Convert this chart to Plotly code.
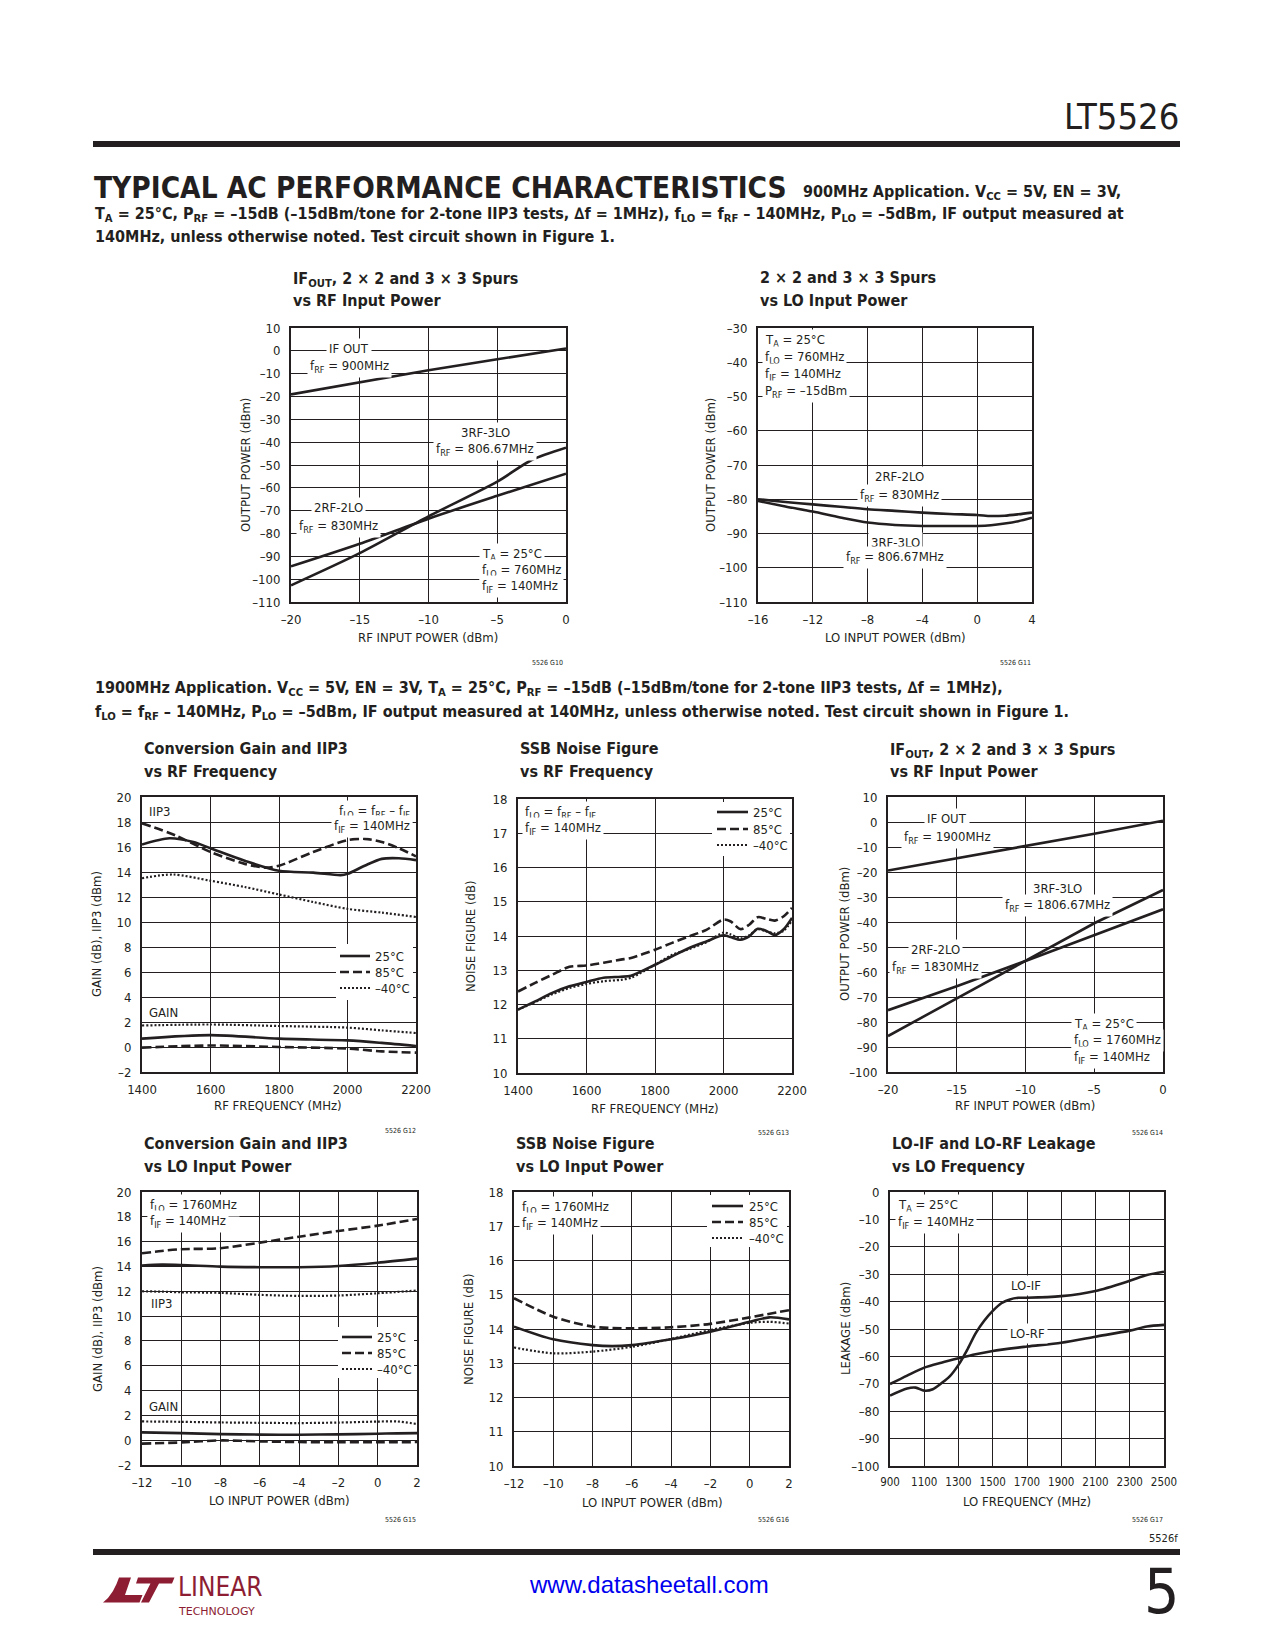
import plotly.graph_objects as go

W, H = 1275, 1650
OFF = 8  # page body margin in the browser
FONT = "DejaVu Sans Condensed, Liberation Sans Narrow, Arial Narrow, sans-serif"
INK = "#231f20"
MAROON = "#8c1d33"

# ---------------- data ----------------
# Chart 1: 900MHz, IF out / spurs vs RF input power
c1_pin = [-20, -15, -10, -5, 0]
c1_ifout = [-19.1, -13.9, -8.5, -3.7, 1.0]
c1_2x2 = [-94.4, -84.5, -73.5, -63.5, -53.8]
c1_pin3 = [-20, -15, -10, -5, -2.5, 0]
c1_3x3 = [-102.7, -88.6, -72.5, -57.3, -47.8, -42.4]

# Chart 2: spurs vs LO input power (900MHz)
c2_plo = [-16, -14, -12, -10, -8, -6, -4, -2, 0, 1, 2, 3, 4]
c2_2x2 = [-80.0, -80.8, -81.5, -82.2, -82.9, -83.4, -83.9, -84.3, -84.6, -84.9, -84.8, -84.4, -83.9]
c2_3x3 = [-80.5, -82.1, -83.6, -85.3, -86.8, -87.5, -87.8, -87.8, -87.8, -87.6, -87.1, -86.4, -85.4]

# Chart 3: conversion gain and IIP3 vs RF frequency (1900MHz)
c3_f25 = [1400, 1480, 1550, 1600, 1700, 1800, 1900, 1980, 2000, 2050, 2100, 2150, 2200]
c3_iip3_25 = [16.2, 16.7, 16.4, 15.9, 14.9, 14.1, 13.95, 13.75, 13.85, 14.5, 15.05, 15.1, 14.95]
c3_f85 = [1400, 1500, 1600, 1700, 1760, 1800, 1900, 2000, 2050, 2100, 2150, 2200]
c3_iip3_85 = [17.9, 16.9, 15.6, 14.65, 14.35, 14.5, 15.6, 16.55, 16.65, 16.4, 15.9, 15.25]
c3_fm40 = [1400, 1490, 1600, 1700, 1800, 1900, 2000, 2100, 2200]
c3_iip3_m40 = [13.5, 13.8, 13.3, 12.8, 12.2, 11.6, 11.05, 10.75, 10.4]
c3_fg = [1400, 1600, 1800, 2000, 2100, 2200]
c3_gain_25 = [0.67, 0.95, 0.67, 0.53, 0.33, 0.08]
c3_gain_85 = [-0.05, 0.12, 0.0, -0.13, -0.35, -0.45]
c3_gain_m40 = [1.72, 1.8, 1.68, 1.55, 1.33, 1.12]

# Chart 4: SSB noise figure vs RF frequency
c4_f = [1400, 1450, 1500, 1550, 1600, 1650, 1700, 1730, 1800, 1850, 1900, 1950, 2000,
        2020, 2050, 2075, 2100, 2125, 2150, 2175, 2200]
c4_nf_25 = [11.85, 12.09, 12.34, 12.53, 12.66, 12.78, 12.81, 12.84, 13.16, 13.41, 13.65, 13.84, 14.02,
            13.97, 13.89, 13.99, 14.21, 14.15, 14.03, 14.19, 14.53]
c4_nf_85 = [12.38, 12.63, 12.87, 13.10, 13.14, 13.22, 13.31, 13.36, 13.60, 13.80, 13.99, 14.18, 14.48,
            14.43, 14.20, 14.33, 14.55, 14.50, 14.45, 14.57, 14.82]
c4_nf_m40 = [11.85, 12.07, 12.30, 12.48, 12.60, 12.68, 12.72, 12.78, 13.16, 13.45, 13.62, 13.82, 14.10,
             14.05, 13.93, 14.02, 14.20, 14.13, 14.08, 14.15, 14.45]

# Chart 5: 1900MHz IF out / spurs vs RF input power
c5_pin = [-20, -15, -10, -5, 0]
c5_ifout = [-19.4, -14.5, -9.8, -4.7, 0.5]
c5_2x2 = [-75.3, -65.7, -55.6, -45.2, -34.9]
c5_3x3 = [-85.6, -70.6, -55.6, -40.5, -27.2]

# Chart 6: conversion gain and IIP3 vs LO input power
c6_plo = [-12, -11, -10, -8, -6, -4, -2, 0, 2]
c6_iip3_25 = [14.07, 14.15, 14.12, 13.99, 13.94, 13.94, 14.04, 14.3, 14.63]
c6_iip3_85 = [15.06, 15.25, 15.39, 15.47, 15.92, 16.4, 16.86, 17.29, 17.83]
c6_iip3_m40 = [12.0, 11.97, 11.92, 11.87, 11.71, 11.63, 11.66, 11.84, 12.06]
c6_plog = [-12, -10, -8, -6, -4, -2, 0, 1, 2]
c6_gain_25 = [0.63, 0.57, 0.49, 0.45, 0.44, 0.47, 0.52, 0.55, 0.57]
c6_gain_85 = [-0.28, -0.18, -0.02, -0.1, -0.15, -0.17, -0.17, -0.16, -0.15]
c6_gain_m40 = [1.51, 1.48, 1.43, 1.4, 1.38, 1.42, 1.5, 1.51, 1.3]

# Chart 7: SSB noise figure vs LO input power
c7_plo25 = [-12, -10, -8, -7, -6, -4, -2, 0, 1, 2]
c7_nf_25 = [14.07, 13.70, 13.53, 13.50, 13.53, 13.70, 13.92, 14.21, 14.34, 14.28]
c7_plo85 = [-12, -10, -8, -6, -4, -2, 0, 2]
c7_nf_85 = [14.9, 14.36, 14.07, 14.02, 14.05, 14.15, 14.34, 14.55]
c7_plom40 = [-12, -10, -8, -6, -4, -2, 0, 1, 2]
c7_nf_m40 = [13.46, 13.29, 13.34, 13.48, 13.71, 13.97, 14.18, 14.21, 14.16]

# Chart 8: LO leakage vs LO frequency
c8_f_if = [900, 1000, 1050, 1100, 1150, 1200, 1250, 1300, 1350, 1400, 1450, 1500, 1550,
           1600, 1650, 1700, 1900, 2100, 2300, 2400, 2500]
c8_lo_if = [-74.3, -71.7, -71.4, -72.5, -72.0, -69.8, -67.2, -63.1, -57.7, -51.6, -47.0, -43.4, -40.6,
            -39.2, -38.6, -38.6, -38.0, -36.1, -32.4, -30.3, -29.1]
c8_f_rf = [900, 1000, 1100, 1200, 1300, 1400, 1500, 1700, 1900, 2100, 2300, 2400, 2500]
c8_lo_rf = [-70.1, -67.0, -64.1, -62.3, -60.7, -59.2, -58.0, -56.4, -55.0, -52.8, -50.6, -49.1, -48.5]

# tick values
t_pin = [-20, -15, -10, -5, 0]
t_out1 = [-110, -100, -90, -80, -70, -60, -50, -40, -30, -20, -10, 0, 10]
t_plo16 = [-16, -12, -8, -4, 0, 4]
t_out2 = [-110, -100, -90, -80, -70, -60, -50, -40, -30]
t_rf = [1400, 1600, 1800, 2000, 2200]
t_gain = [-2, 0, 2, 4, 6, 8, 10, 12, 14, 16, 18, 20]
t_nf = [10, 11, 12, 13, 14, 15, 16, 17, 18]
t_out5 = [-100, -90, -80, -70, -60, -50, -40, -30, -20, -10, 0, 10]
t_plo12 = [-12, -10, -8, -6, -4, -2, 0, 2]
t_lof = [900, 1100, 1300, 1500, 1700, 1900, 2100, 2300, 2500]
t_leak = [-100, -90, -80, -70, -60, -50, -40, -30, -20, -10, 0]


def lab(vals):
    return [str(v).replace("-", "\u2013") for v in vals]


def X(p):
    return (p - OFF) / W


def Y(p):
    return 1 - (p - OFF) / H


# chart boxes in page pixels: (left, top, right, bottom)
charts = [
    dict(box=(291, 328, 566, 602), xr=(-20, 0), yr=(-110, 10), xt=t_pin, yt=t_out1),
    dict(box=(758, 328, 1032, 602), xr=(-16, 4), yr=(-110, -30), xt=t_plo16, yt=t_out2),
    dict(box=(142, 797, 416, 1072), xr=(1400, 2200), yr=(-2, 20), xt=t_rf, yt=t_gain),
    dict(box=(518, 799, 792, 1073), xr=(1400, 2200), yr=(10, 18), xt=t_rf, yt=t_nf),
    dict(box=(888, 797, 1163, 1072), xr=(-20, 0), yr=(-100, 10), xt=t_pin, yt=t_out5),
    dict(box=(142, 1192, 417, 1465), xr=(-12, 2), yr=(-2, 20), xt=t_plo12, yt=t_gain),
    dict(box=(514, 1192, 789, 1466), xr=(-12, 2), yr=(10, 18), xt=t_plo12, yt=t_nf),
    dict(box=(890, 1192, 1164, 1466), xr=(900, 2500), yr=(-100, 0), xt=t_lof, yt=t_leak),
]

TICK = 13
fig = go.Figure()
layout = {}
for i, c in enumerate(charts, 1):
    l, t, r, b = c["box"]
    xn = "xaxis" if i == 1 else f"xaxis{i}"
    yn = "yaxis" if i == 1 else f"yaxis{i}"
    common = dict(showgrid=True, gridcolor=INK, gridwidth=1.3, showline=True, linecolor=INK,
                  linewidth=2, mirror=True, zeroline=False, ticks="", fixedrange=True, automargin=False,
                  tickfont=dict(family=FONT, size=TICK, color=INK))
    layout[xn] = dict(domain=[X(l), X(r)], anchor=("y" if i == 1 else f"y{i}"), range=list(c["xr"]),
                      tickmode="array", tickvals=c["xt"], ticktext=lab(c["xt"]), ticklabelstandoff=4,
                      **common)
    layout[yn] = dict(domain=[Y(b), Y(t)], anchor=("x" if i == 1 else f"x{i}"), range=list(c["yr"]),
                      tickmode="array", tickvals=c["yt"], ticktext=lab(c["yt"]), ticklabelstandoff=6,
                      **common)
layout["xaxis8"]["tickfont"] = dict(family=FONT, size=11.5, color=INK)

SOLID = dict(color=INK, width=2.6)
DASH = dict(color=INK, width=2.6, dash="9px,4px")
DOT = dict(color=INK, width=2.2, dash="2px,2px")


def add(i, x, y, style, spline=True):
    ln = dict(style)
    if spline:
        ln.update(shape="spline", smoothing=0.8)
    fig.add_trace(go.Scatter(x=x, y=y, mode="lines", line=ln, showlegend=False, hoverinfo="skip",
                             xaxis=("x" if i == 1 else f"x{i}"), yaxis=("y" if i == 1 else f"y{i}")))


add(1, c1_pin, c1_ifout, SOLID, False)
add(1, c1_pin, c1_2x2, SOLID)
add(1, c1_pin3, c1_3x3, SOLID)
add(2, c2_plo, c2_2x2, SOLID)
add(2, c2_plo, c2_3x3, SOLID)
add(3, c3_fm40, c3_iip3_m40, DOT)
add(3, c3_f85, c3_iip3_85, DASH)
add(3, c3_f25, c3_iip3_25, SOLID)
add(3, c3_fg, c3_gain_m40, DOT)
add(3, c3_fg, c3_gain_85, DASH)
add(3, c3_fg, c3_gain_25, SOLID)
add(4, c4_f, c4_nf_m40, DOT)
add(4, c4_f, c4_nf_85, DASH)
add(4, c4_f, c4_nf_25, SOLID)
add(5, c5_pin, c5_ifout, SOLID, False)
add(5, c5_pin, c5_2x2, SOLID, False)
add(5, c5_pin, c5_3x3, SOLID, False)
add(6, c6_plo, c6_iip3_m40, DOT)
add(6, c6_plo, c6_iip3_85, DASH)
add(6, c6_plo, c6_iip3_25, SOLID)
add(6, c6_plog, c6_gain_m40, DOT)
add(6, c6_plog, c6_gain_85, DASH)
add(6, c6_plog, c6_gain_25, SOLID)
add(7, c7_plom40, c7_nf_m40, DOT)
add(7, c7_plo85, c7_nf_85, DASH)
add(7, c7_plo25, c7_nf_25, SOLID)
add(8, c8_f_if, c8_lo_if, SOLID)
add(8, c8_f_rf, c8_lo_rf, SOLID)

anns = []
shapes = []
AS = 13


def txt(s, x, y, size=AS, xa="center", bold=False, bg=None, angle=0, color=INK, family=FONT, ya="middle"):
    a = dict(text=(f"<b>{s}</b>" if bold else s), x=X(x), y=Y(y), xref="paper", yref="paper",
             xanchor=xa, yanchor=ya, showarrow=False, textangle=angle,
             font=dict(family=family, size=size, color=color))
    if bg:
        a.update(bgcolor=bg, borderpad=2)
    anns.append(a)


def rect(x0, y0, x1, y1, color="white", layer="above"):
    shapes.append(dict(type="rect", xref="paper", yref="paper", x0=X(x0), x1=X(x1), y0=Y(y1), y1=Y(y0),
                       fillcolor=color, line=dict(width=0), layer=layer))


def seg(x0, x1, y, style):
    d = dict(color=style["color"], width=style["width"])
    if "dash" in style:
        d["dash"] = style["dash"]
    shapes.append(dict(type="line", xref="paper", yref="paper", x0=X(x0), x1=X(x1), y0=Y(y), y1=Y(y),
                       line=d, layer="above"))


def legend(x0, x1, xt, ys):
    for yy, st, name in zip(ys, [SOLID, DASH, DOT], ["25°C", "85°C", "\u201340°C"]):
        seg(x0, x1, yy, st)
        txt(name, xt, yy, xa="left")


# ---------- page header ----------
rect(93, 141, 1180, 147, color=INK)
rect(93, 1549, 1180, 1555, color=INK)
txt("LT5526", 1181, 117, size=36, xa="right")
txt("TYPICAL AC PERFORMANCE CHARACTERISTICS", 92, 188, size=29.5, xa="left", bold=True)
HS = 16
txt("900MHz Application. V<sub>CC</sub> = 5V, EN = 3V,", 801, 192, size=HS, xa="left", bold=True)
txt("T<sub>A</sub> = 25°C, P<sub>RF</sub> = \u201315dB (\u201315dBm/tone for 2-tone IIP3 tests, \u2206f = 1MHz), "
    "f<sub>LO</sub> = f<sub>RF</sub> \u2013 140MHz, P<sub>LO</sub> = \u20135dBm, IF output measured at",
    93, 214, size=HS, xa="left", bold=True)
txt("140MHz, unless otherwise noted. Test circuit shown in Figure 1.", 93, 236, size=HS, xa="left", bold=True)
txt("1900MHz Application. V<sub>CC</sub> = 5V, EN = 3V, T<sub>A</sub> = 25°C, P<sub>RF</sub> = \u201315dB "
    "(\u201315dBm/tone for 2-tone IIP3 tests, \u2206f = 1MHz),", 93, 688, size=HS, xa="left", bold=True)
txt("f<sub>LO</sub> = f<sub>RF</sub> \u2013 140MHz, P<sub>LO</sub> = \u20135dBm, IF output measured at 140MHz, "
    "unless otherwise noted. Test circuit shown in Figure 1.", 93, 712, size=HS, xa="left", bold=True)

TS = 16
AX = 13
# ---------- chart 1 ----------
txt("IF<sub>OUT</sub>, 2 × 2 and 3 × 3 Spurs", 291, 279, size=TS, xa="left", bold=True)
txt("vs RF Input Power", 291, 300, size=TS, xa="left", bold=True)
txt("IF OUT", 349, 348, bg="white")
txt("f<sub>RF</sub> = 900MHz", 349, 366, bg="white")
txt("3RF-3LO", 485, 432, bg="white")
txt("f<sub>RF</sub> = 806.67MHz", 485, 450, bg="white")
txt("2RF-2LO", 338, 508, bg="white")
txt("f<sub>RF</sub> = 830MHz", 338, 526, bg="white")
txt("T<sub>A</sub> = 25°C", 479, 554, xa="left", bg="white")
txt("f<sub>LO</sub> = 760MHz", 479, 570, xa="left", bg="white")
txt("f<sub>IF</sub> = 140MHz", 479, 586, xa="left", bg="white")
txt("OUTPUT POWER (dBm)", 245, 465, size=AX, angle=-90)
txt("RF INPUT POWER (dBm)", 428, 637, size=AX)
txt("5526 G10", 547, 663, size=7)

# ---------- chart 2 ----------
txt("2 × 2 and 3 × 3 Spurs", 758, 277, size=TS, xa="left", bold=True)
txt("vs LO Input Power", 758, 300, size=TS, xa="left", bold=True)
txt("T<sub>A</sub> = 25°C", 762, 341, xa="left", bg="white")
txt("f<sub>LO</sub> = 760MHz", 762, 357, xa="left", bg="white")
txt("f<sub>IF</sub> = 140MHz", 762, 374, xa="left", bg="white")
txt("P<sub>RF</sub> = \u201315dBm", 762, 391, xa="left", bg="white")
txt("2RF-2LO", 899, 477, bg="white")
txt("f<sub>RF</sub> = 830MHz", 899, 495, bg="white")
txt("3RF-3LO", 895, 542, bg="white")
txt("f<sub>RF</sub> = 806.67MHz", 895, 558, bg="white")
txt("OUTPUT POWER (dBm)", 710, 465, size=AX, angle=-90)
txt("LO INPUT POWER (dBm)", 896, 637, size=AX)
txt("5526 G11", 1015, 663, size=7)

# ---------- chart 3 ----------
txt("Conversion Gain and IIP3", 142, 748, size=TS, xa="left", bold=True)
txt("vs RF Frequency", 142, 771, size=TS, xa="left", bold=True)
txt("IIP3", 147, 811, xa="left")
txt("f<sub>LO</sub> = f<sub>RF</sub> \u2013 f<sub>IF</sub>", 413, 811, xa="right", bg="white")
txt("f<sub>IF</sub> = 140MHz", 413, 826, xa="right", bg="white")
txt("GAIN", 147, 1012, xa="left")
rect(336, 944, 413, 1000)
legend(340, 370, 373, [956, 972, 988])
txt("GAIN (dB), IIP3 (dBm)", 97, 934, size=AX, angle=-90)
txt("RF FREQUENCY (MHz)", 278, 1105, size=AX)
txt("5526 G12", 400, 1131, size=7)

# ---------- chart 4 ----------
txt("SSB Noise Figure", 518, 748, size=TS, xa="left", bold=True)
txt("vs RF Frequency", 518, 771, size=TS, xa="left", bold=True)
txt("f<sub>LO</sub> = f<sub>RF</sub> \u2013 f<sub>IF</sub>", 522, 812, xa="left", bg="white")
txt("f<sub>IF</sub> = 140MHz", 522, 828, xa="left", bg="white")
rect(712, 802, 790, 856)
legend(717, 748, 751, [812, 829, 845])
txt("NOISE FIGURE (dB)", 471, 936, size=AX, angle=-90)
txt("RF FREQUENCY (MHz)", 655, 1108, size=AX)
txt("5526 G13", 773, 1133, size=7)

# ---------- chart 5 ----------
txt("IF<sub>OUT</sub>, 2 × 2 and 3 × 3 Spurs", 888, 750, size=TS, xa="left", bold=True)
txt("vs RF Input Power", 888, 771, size=TS, xa="left", bold=True)
txt("IF OUT", 947, 819, bg="white")
txt("f<sub>RF</sub> = 1900MHz", 947, 837, bg="white")
txt("3RF-3LO", 1057, 888, bg="white")
txt("f<sub>RF</sub> = 1806.67MHz", 1057, 906, bg="white")
txt("2RF-2LO", 936, 949, bg="white")
txt("f<sub>RF</sub> = 1830MHz", 936, 967, bg="white")
txt("T<sub>A</sub> = 25°C", 1071, 1024, xa="left", bg="white")
txt("f<sub>LO</sub> = 1760MHz", 1071, 1040, xa="left", bg="white")
txt("f<sub>IF</sub> = 140MHz", 1071, 1057, xa="left", bg="white")
txt("OUTPUT POWER (dBm)", 845, 934, size=AX, angle=-90)
txt("RF INPUT POWER (dBm)", 1025, 1105, size=AX)
txt("5526 G14", 1147, 1133, size=7)

# ---------- chart 6 ----------
txt("Conversion Gain and IIP3", 142, 1143, size=TS, xa="left", bold=True)
txt("vs LO Input Power", 142, 1166, size=TS, xa="left", bold=True)
txt("f<sub>LO</sub> = 1760MHz", 147, 1205, xa="left", bg="white")
txt("f<sub>IF</sub> = 140MHz", 147, 1221, xa="left", bg="white")
txt("IIP3", 149, 1303, xa="left")
txt("GAIN", 147, 1406, xa="left")
rect(338, 1327, 414, 1378)
legend(342, 372, 375, [1337, 1353, 1369])
txt("GAIN (dB), IIP3 (dBm)", 97, 1329, size=AX, angle=-90)
txt("LO INPUT POWER (dBm)", 279, 1500, size=AX)
txt("5526 G15", 400, 1520, size=7)

# ---------- chart 7 ----------
txt("SSB Noise Figure", 514, 1143, size=TS, xa="left", bold=True)
txt("vs LO Input Power", 514, 1166, size=TS, xa="left", bold=True)
txt("f<sub>LO</sub> = 1760MHz", 519, 1207, xa="left", bg="white")
txt("f<sub>IF</sub> = 140MHz", 519, 1223, xa="left", bg="white")
rect(707, 1195, 787, 1247)
legend(712, 743, 747, [1206, 1222, 1238])
txt("NOISE FIGURE (dB)", 468, 1329, size=AX, angle=-90)
txt("LO INPUT POWER (dBm)", 652, 1502, size=AX)
txt("5526 G16", 773, 1520, size=7)

# ---------- chart 8 ----------
txt("LO-IF and LO-RF Leakage", 890, 1143, size=TS, xa="left", bold=True)
txt("vs LO Frequency", 890, 1166, size=TS, xa="left", bold=True)
txt("T<sub>A</sub> = 25°C", 895, 1205, xa="left", bg="white")
txt("f<sub>IF</sub> = 140MHz", 895, 1222, xa="left", bg="white")
txt("LO-IF", 1026, 1285, bg="white")
txt("LO-RF", 1027, 1333, bg="white")
txt("LEAKAGE (dBm)", 845, 1329, size=AX, angle=-90)
txt("LO FREQUENCY (MHz)", 1027, 1501, size=AX)
txt("5526 G17", 1147, 1520, size=7)

# ---------- footer ----------
txt("5526f", 1180, 1538, size=11, xa="right")
txt("www.datasheetall.com", 649, 1584, size=24, color="#0000ee",
    family="Liberation Sans, Arial, sans-serif")
txt("5", 1181, 1591, size=62, xa="right")


def path(pts):
    return "M " + " L ".join(f"{X(a):.5f},{Y(b):.5f}" for a, b in pts) + " Z"


# logo mark
shapes.append(dict(type="path", xref="paper", yref="paper", fillcolor=MAROON, line=dict(width=0),
                   path=path([(119, 1577.5), (131, 1577.5), (125, 1595), (142.5, 1595), (139.5, 1602.5),
                              (103, 1602.5), (108, 1598), (113, 1591), (116.5, 1584)])))
shapes.append(dict(type="path", xref="paper", yref="paper", fillcolor=MAROON, line=dict(width=0),
                   path=path([(138, 1577.5), (174.5, 1577.5), (172, 1583.5), (159, 1583.5), (149, 1602.5),
                              (141, 1602.5), (150.5, 1583.5), (136, 1583.5)])))
txt("LINEAR", 176, 1587, size=26, xa="left", color=MAROON)
txt("TECHNOLOGY", 176, 1611, size=11, xa="left", color=MAROON, family="DejaVu Sans, sans-serif")

layout.update(width=W, height=H, margin=dict(l=0, r=0, t=0, b=0, pad=0, autoexpand=False), autosize=False,
              paper_bgcolor="white", plot_bgcolor="white", showlegend=False,
              annotations=anns, shapes=shapes)
fig.update_layout(**layout)
fig.write_html("out.html")
